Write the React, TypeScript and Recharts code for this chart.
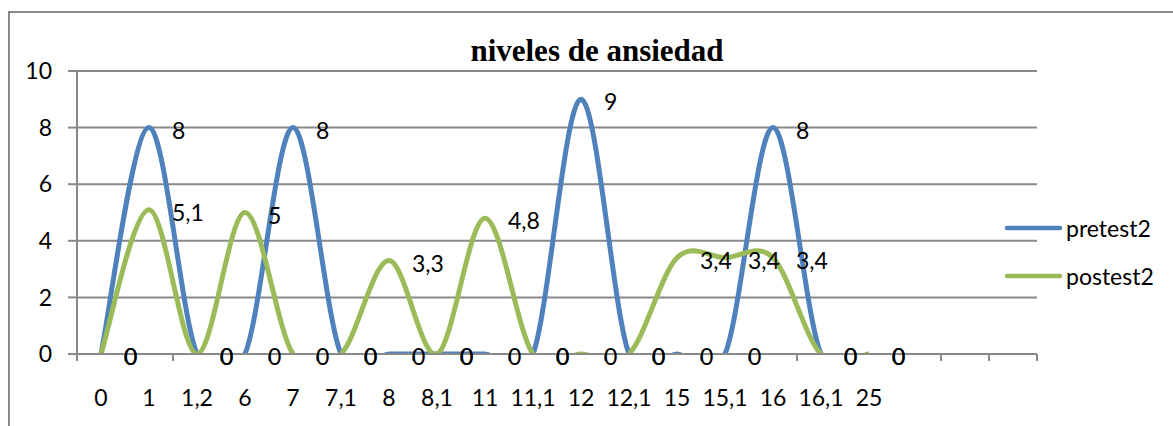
import React from 'react';
import { LineChart, Line, XAxis, YAxis, CartesianGrid, Legend, LabelList } from 'recharts';

// categories on the x axis (last three are empty slots, as in the sheet)
const categories = ['0', '1', '1,2', '6', '7', '7,1', '8', '8,1', '11', '11,1', '12', '12,1', '15', '15,1', '16', '16,1', '25', '', '', ''];
const pretest2 = [0, 8, 0, 0, 8, 0, 0, 0, 0, 0, 9, 0, 0, 0, 8, 0, 0, null, null, null];
const postest2 = [0, 5.1, 0, 5, 0, 0, 3.3, 0, 4.8, 0, 0, 0, 3.4, 3.4, 3.4, 0, 0, null, null, null];
const yTicks = [0, 2, 4, 6, 8, 10];

const SERIES = [
    { key: 'pretest2', color: '#4F81BD' },
    { key: 'postest2', color: '#9BBB59' },
];

const FONT = 'Lato, "Open Sans", sans-serif';
const GRID = '#898989';

const chartData = categories.map((name, i) => ({
    idx: i,
    name,
    pretest2: pretest2[i],
    postest2: postest2[i],
}));

// ticks between categories (boundaries) and at category centres (labels)
const xTicks = Array.from({ length: categories.length * 2 + 1 }, (_, i) => -0.5 + i * 0.5);

// Excel-style smoothed line: Catmull-Rom segments drawn as cubic beziers
// eslint-disable-next-line @typescript-eslint/no-explicit-any
const excelSmooth = (context: any) => {
    let pts: number[][] = [];
    return {
        areaStart() {},
        areaEnd() {},
        lineStart() {
            pts = [];
        },
        point(x: number, y: number) {
            pts.push([+x, +y]);
        },
        lineEnd() {
            if (!pts.length) return;
            context.moveTo(pts[0][0], pts[0][1]);
            for (let i = 0; i < pts.length - 1; i++) {
                const p0 = pts[i - 1] || pts[i];
                const p1 = pts[i];
                const p2 = pts[i + 1];
                const p3 = pts[i + 2] || p2;
                context.bezierCurveTo(
                    p1[0] + (p2[0] - p0[0]) / 6,
                    p1[1] + (p2[1] - p0[1]) / 6,
                    p2[0] - (p3[0] - p1[0]) / 6,
                    p2[1] - (p3[1] - p1[1]) / 6,
                    p2[0],
                    p2[1]
                );
            }
        },
    };
};

// eslint-disable-next-line @typescript-eslint/no-explicit-any
const XTick = (props: any) => {
    const { x, y, payload } = props;
    const v = payload.value;
    if (Number.isInteger(v)) {
        return (
            <text x={x} y={y + 43} textAnchor="middle" dominantBaseline="central" fontFamily={FONT} fontSize={23} fill="#000">
                {categories[v]}
            </text>
        );
    }
    return <line x1={x} x2={x} y1={y} y2={y + 7} stroke={GRID} strokeWidth={2} />;
};

// eslint-disable-next-line @typescript-eslint/no-explicit-any
const renderLabel = (props: any) => {
    const { x, y, value } = props;
    if (value === null || value === undefined) return null;
    return (
        <text x={x + 23} y={y + 2} dominantBaseline="central" fontFamily={FONT} fontSize={23} fill="#000">
            {String(value).replace('.', ',')}
        </text>
    );
};

// legend keeps the series order (pretest2 first)
// eslint-disable-next-line @typescript-eslint/no-explicit-any
const renderLegend = (props: any) => {
    const order = SERIES.map((s) => s.key);
    // eslint-disable-next-line @typescript-eslint/no-explicit-any
    const items = [...(props.payload || [])].sort((a: any, b: any) => order.indexOf(a.value) - order.indexOf(b.value));
    return (
        <svg width={173} height={100} style={{ display: 'block', overflow: 'visible' }}>
            {/* eslint-disable-next-line @typescript-eslint/no-explicit-any */}
            {items.map((entry: any, i: number) => (
                <g key={entry.value}>
                    <line x1={7} x2={60} y1={23 + 48 * i} y2={23 + 48 * i} stroke={entry.color} strokeWidth={4.5} strokeLinecap="round" />
                    <text x={66} y={23 + 48 * i} dominantBaseline="central" fontFamily={FONT} fontSize={23} fill="#000">
                        {entry.value}
                    </text>
                </g>
            ))}
        </svg>
    );
};

export default function App() {
    return (
        <div style={{ position: 'relative', width: 1173, height: 426, overflow: 'hidden', background: '#fff' }}>
            <style>{'body{margin:0;overflow:hidden}'}</style>
            {/* outer chart border, right/bottom edges fall outside the picture */}
            <div
                style={{
                    position: 'absolute',
                    left: 8,
                    top: 11,
                    width: 1300,
                    height: 600,
                    border: `2px solid ${GRID}`,
                }}
            />
            <div
                style={{
                    position: 'absolute',
                    left: 0,
                    width: 1194,
                    top: 35,
                    textAlign: 'center',
                    fontFamily: '"Liberation Serif", "Times New Roman", serif',
                    fontWeight: 'bold',
                    fontSize: 31,
                    lineHeight: '31px',
                }}
            >
                niveles de ansiedad
            </div>
            <div style={{ position: 'absolute', left: 0, top: 0 }}>
                <LineChart width={1173} height={426} data={chartData} margin={{ top: 71, right: 136, bottom: 12, left: 17 }}>
                    <CartesianGrid vertical={false} stroke={GRID} strokeWidth={2} />
                    <XAxis
                        dataKey="idx"
                        type="number"
                        domain={[-0.5, categories.length - 0.5]}
                        ticks={xTicks}
                        interval={0}
                        height={60}
                        tickSize={0}
                        tickMargin={0}
                        tickLine={false}
                        axisLine={{ stroke: GRID, strokeWidth: 2 }}
                        tick={<XTick />}
                    />
                    <YAxis
                        domain={[0, 10]}
                        ticks={yTicks}
                        allowDataOverflow
                        width={60}
                        tickSize={9}
                        tickMargin={16}
                        tickLine={{ stroke: GRID, strokeWidth: 2 }}
                        axisLine={{ stroke: GRID, strokeWidth: 2 }}
                        tick={{ fill: '#000', fontSize: 23, fontFamily: FONT }}
                    />
                    <Legend
                        layout="horizontal"
                        verticalAlign="middle"
                        align="center"
                        wrapperStyle={{ left: 1000, top: 205, width: 173, height: 100 }}
                        content={renderLegend}
                    />
                    {SERIES.map((s) => (
                        <Line
                            key={s.key}
                            dataKey={s.key}
                            type={excelSmooth}
                            stroke={s.color}
                            strokeWidth={5}
                            dot={false}
                            activeDot={false}
                            isAnimationActive={false}
                        >
                            <LabelList dataKey={s.key} content={renderLabel} />
                        </Line>
                    ))}
                </LineChart>
            </div>
        </div>
    );
}
